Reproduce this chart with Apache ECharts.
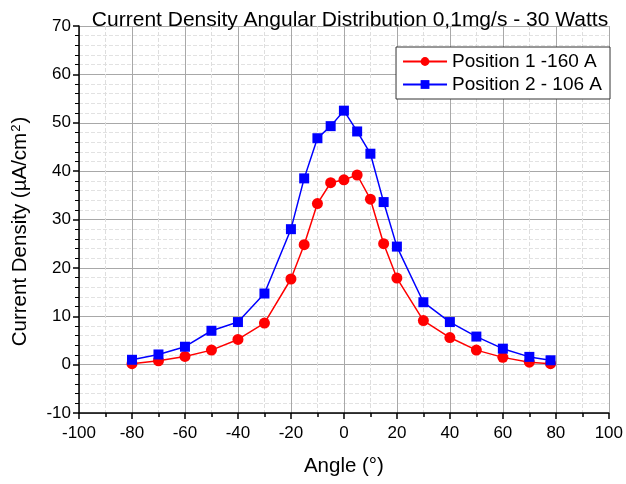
<!DOCTYPE html>
<html>
<head>
<meta charset="utf-8">
<script src="https://cdn.jsdelivr.net/npm/echarts@6/dist/echarts.min.js"></script>
<style>
  html, body { margin: 0; padding: 0; background: #fff; }
  #chart { width: 626px; height: 484px; }
</style>
</head>
<body>
<div id="chart"></div>
<script>
// angles in degrees
const angles = [-80, -70, -60, -50, -40, -30, -20, -15, -10, -5, 0, 5, 10, 15, 20, 30, 40, 50, 60, 70, 78]
// current density, µA/cm²
const position1 = [0.2, 0.8, 1.7, 3.0, 5.2, 8.6, 17.7, 24.8, 33.3, 37.6, 38.2, 39.2, 34.2, 25.0, 17.9, 9.1, 5.6, 3.0, 1.5, 0.5, 0.2]
const position2 = [1.0, 2.1, 3.7, 7.0, 8.8, 14.7, 28.0, 38.5, 46.8, 49.3, 52.5, 48.2, 43.6, 33.6, 24.4, 12.9, 8.8, 5.8, 3.3, 1.6, 0.9]

const seriesNames = ['Position 1 -160 A', 'Position 2 - 106 A']

function pairs(values) {
  return angles.map((a, i) => [a, values[i]])
}

const chart = echarts.init(document.getElementById('chart'))

const fontFamily = 'Liberation Sans, Arial, sans-serif'

chart.setOption({
  animation: false,
  textStyle: { fontFamily: fontFamily, color: '#000' },
  title: {
    text: 'Current Density Angular Distribution 0,1mg/s - 30 Watts',
    left: 345,
    textAlign: 'center',
    top: 5,
    textStyle: { fontSize: 21, fontWeight: 'normal', color: '#000', fontFamily: fontFamily }
  },
  legend: {
    orient: 'vertical',
    right: 16,
    top: 47,
    padding: [5, 8, 5, 6],
    itemGap: 4,
    itemWidth: 44,
    itemHeight: 11,
    borderColor: '#333',
    borderWidth: 1,
    borderRadius: 0,
    backgroundColor: '#fff',
    textStyle: { fontSize: 19, color: '#000', fontFamily: fontFamily },
    data: seriesNames
  },
  grid: {
    left: 79,
    right: 16,
    top: 26,
    bottom: 71,
    containLabel: false
  },
  xAxis: {
    type: 'value',
    min: -100,
    max: 100,
    interval: 20,
    name: 'Angle (°)',
    nameLocation: 'middle',
    nameGap: 43,
    nameTextStyle: { fontSize: 20.5, color: '#000' },
    axisLine: { onZero: false, lineStyle: { color: '#000', width: 1.5 } },
    axisTick: { show: true, length: 6, lineStyle: { color: '#000', width: 1.5 } },
    minorTick: { show: true, splitNumber: 2, length: 4, lineStyle: { color: '#000', width: 1.5 } },
    axisLabel: { fontSize: 17, color: '#000', margin: 12 },
    splitLine: { show: true, lineStyle: { color: '#a8a8a8', width: 1 } },
    minorSplitLine: { show: true, lineStyle: { color: '#dedede', type: 'dashed', width: 1 } }
  },
  yAxis: {
    type: 'value',
    min: -10,
    max: 70,
    interval: 10,
    name: '{t|Current Density (µA/cm}{s|2}{t|)}',
    nameLocation: 'middle',
    nameGap: 48,
    nameTextStyle: {
      fontSize: 20.5,
      color: '#000',
      padding: [0, 24, 0, 0],
      rich: {
        t: { fontSize: 20.5, color: '#000', fontFamily: fontFamily },
        s: { fontSize: 13, color: '#000', fontFamily: fontFamily, verticalAlign: 'top', padding: [0, 1, 8, 1] }
      }
    },
    axisLine: { show: true, onZero: false, lineStyle: { color: '#000', width: 1.5 } },
    axisTick: { show: true, length: 6, lineStyle: { color: '#000', width: 1.5 } },
    minorTick: { show: true, splitNumber: 5, length: 4, lineStyle: { color: '#000', width: 1 } },
    axisLabel: { fontSize: 17, color: '#000', margin: 8 },
    splitLine: { show: true, lineStyle: { color: '#a8a8a8', width: 1 } },
    minorSplitLine: { show: true, lineStyle: { color: '#e2e2e2', type: 'dashed', width: 1 } }
  },
  series: [
    {
      name: seriesNames[0],
      type: 'line',
      data: pairs(position1),
      symbol: 'circle',
      symbolSize: 11,
      lineStyle: { color: '#ff0000', width: 1.5 },
      itemStyle: { color: '#ff0000' },
      z: 3
    },
    {
      name: seriesNames[1],
      type: 'line',
      data: pairs(position2),
      symbol: 'rect',
      symbolSize: 10,
      lineStyle: { color: '#0000ff', width: 1.5 },
      itemStyle: { color: '#0000ff' },
      z: 4
    }
  ]
})
</script>
</body>
</html>
